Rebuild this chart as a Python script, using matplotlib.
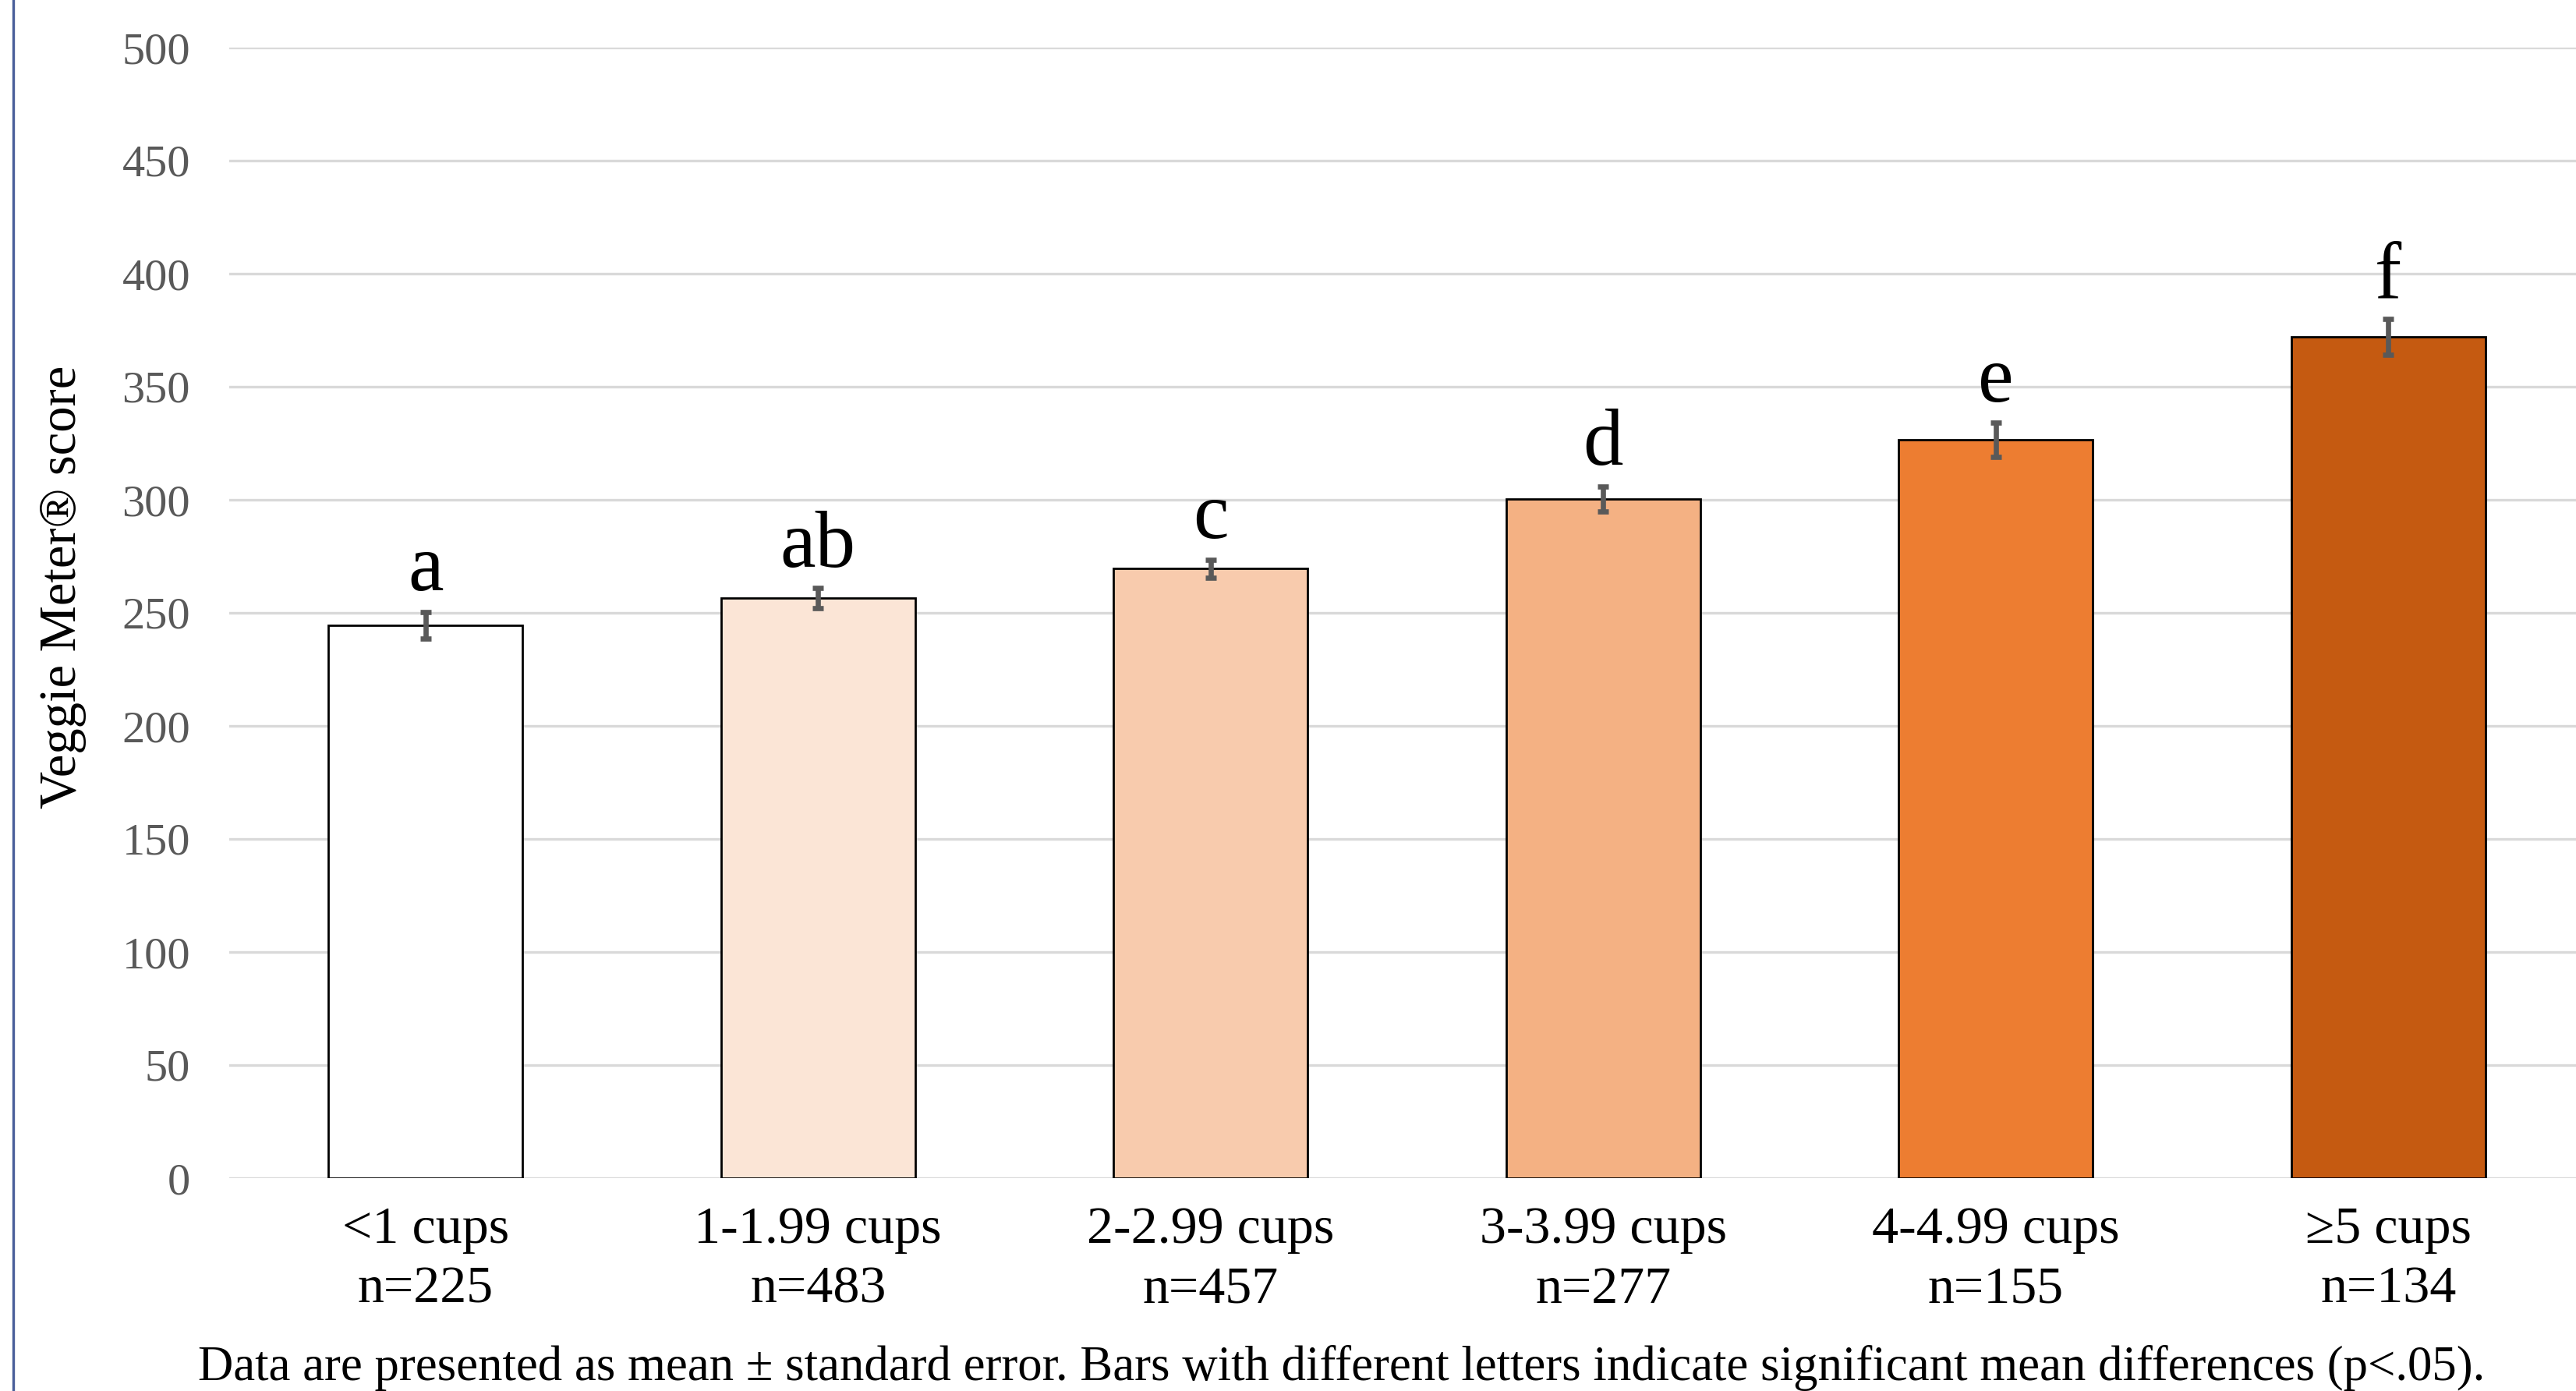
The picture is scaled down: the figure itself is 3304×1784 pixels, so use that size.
import matplotlib
matplotlib.use("Agg")
import matplotlib.pyplot as plt
from matplotlib.lines import Line2D

# data
categories = ["<1 cups", "1-1.99 cups", "2-2.99 cups", "3-3.99 cups", "4-4.99 cups", "\u22655 cups"]
counts = [225, 483, 457, 277, 155, 134]
means = [244.5, 256.5, 269.5, 300.5, 326.5, 372.0]
errors = [6.0, 4.5, 4.0, 5.5, 7.5, 8.0]
letters = ["a", "ab", "c", "d", "e", "f"]
colors = ["#FFFFFF", "#FBE5D6", "#F8CBAD", "#F4B183", "#ED7D31", "#C55A11"]

plt.rcParams['font.family'] = ['Liberation Serif', 'DejaVu Serif']

W, H, DPI = 3304, 1784, 200
fig = plt.figure(figsize=(W / DPI, H / DPI), dpi=DPI)

# axes runs past the right edge, like the cropped original
ax = fig.add_axes([294 / W, 1 - 1511 / H, (3315 - 294) / W, (1511 - 61) / H])
x = list(range(len(categories)))

ax.bar(x, means, width=0.494, color=colors, edgecolor="black", linewidth=1.0, zorder=3)
ax.errorbar(x, means, yerr=errors, fmt="none", ecolor="#595959", elinewidth=2.4,
            capsize=2.5, capthick=2.4, zorder=4)

for i in x:
    ax.text(i, means[i] + errors[i] + 9.5, letters[i], ha="center", va="baseline",
            fontsize=37, color="black", zorder=5)

ax.set_xlim(-0.5, len(categories) - 0.5)
ax.set_ylim(0, 500)
ax.set_yticks(range(0, 501, 50))
ax.tick_params(axis="y", length=0, labelsize=21, labelcolor="#595959", pad=18)
ax.set_xticks(x)
ax.set_xticklabels([f"{c}\nn={n}" for c, n in zip(categories, counts)],
                   fontsize=24.5, linespacing=1.33)
ax.tick_params(axis="x", length=0, pad=13)
ax.grid(axis="y", color="#D9D9D9", linewidth=1.2, zorder=0)
for s in ax.spines.values():
    s.set_visible(False)

ax.set_ylabel("Veggie Meter\u00ae score", fontsize=24)
ax.yaxis.set_label_coords(-0.0605, 0.523)

fig.text(1721 / W, 1 - 1755 / H,
         "Data are presented as mean \u00b1 standard error. Bars with different letters "
         "indicate significant mean differences (p<.05).",
         ha="center", va="center", fontsize=22.6, color="black")

# thin blue frame line at the left edge
fig.add_artist(Line2D([17 / W, 17 / W], [0, 1], transform=fig.transFigure,
                      color="#4A5F9A", linewidth=1.2))

fig.savefig("out.png", dpi=DPI, facecolor="white")
